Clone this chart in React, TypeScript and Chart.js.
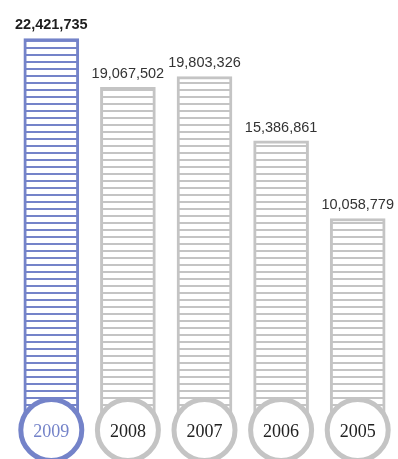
import React, { useEffect, useRef } from "react";
import { Chart, registerables } from "chart.js";

Chart.register(...registerables);

const years = ["2009", "2008", "2007", "2006", "2005"];
const values = [22421735, 19067502, 19803326, 15386861, 10058779];
const highlighted = [true, false, false, false, false];

const BLUE = "#7483c9";
const GRAY = "#c4c4c4";

function stripePattern(color: string): CanvasPattern | string {
  const c = document.createElement("canvas");
  c.width = 8;
  c.height = 7;
  const g = c.getContext("2d");
  if (!g) return "#fff";
  g.fillStyle = "#ffffff";
  g.fillRect(0, 0, 8, 7);
  g.fillStyle = color;
  g.fillRect(0, 5, 8, 2);
  const p = g.createPattern(c, "repeat");
  return p || "#fff";
}

const fmt = (v: number) => v.toLocaleString("en-US");

export default function App() {
  const ref = useRef<HTMLCanvasElement | null>(null);

  useEffect(() => {
    document.body.style.margin = "0";
    if (!ref.current) return;

    const overlay = {
      id: "overlay",
      afterDatasetsDraw(chart: any) {
        const ctx = chart.ctx;
        const meta = chart.getDatasetMeta(0);
        ctx.save();
        meta.data.forEach((el: any, i: number) => {
          const hi = highlighted[i];
          ctx.font = hi ? 'bold 14.5px "Liberation Sans", Arial, sans-serif' : '14.5px "Liberation Sans", Arial, sans-serif';
          ctx.fillStyle = hi ? "#1e1e1e" : "#333333";
          ctx.textAlign = "center";
          ctx.textBaseline = "bottom";
          ctx.fillText(fmt(values[i]), el.x, el.y - 6);
          const cy = 430;
          ctx.beginPath();
          ctx.arc(el.x, cy, 30.5, 0, Math.PI * 2);
          ctx.fillStyle = "#ffffff";
          ctx.fill();
          ctx.lineWidth = 5;
          ctx.strokeStyle = hi ? BLUE : GRAY;
          ctx.stroke();
          ctx.font = '18px "Liberation Serif", "DejaVu Serif", serif';
          ctx.fillStyle = hi ? BLUE : "#222222";
          ctx.textBaseline = "middle";
          ctx.fillText(years[i], el.x, cy + 2);
        });
        ctx.restore();
      },
    };

    const chart = new Chart(ref.current, {
      type: "bar",
      data: {
        labels: years,
        datasets: [
          {
            data: values,
            base: -3430000,
            backgroundColor: highlighted.map((h) => stripePattern(h ? BLUE : GRAY)),
            borderColor: highlighted.map((h) => (h ? BLUE : GRAY)),
            borderWidth: 3,
            borderSkipped: false,
            barThickness: 55,
          } as any,
        ],
      },
      options: {
        animation: false,
        responsive: false,
        maintainAspectRatio: false,
        layout: { padding: { top: 20, bottom: 44, left: 13, right: 2 } },
        plugins: { legend: { display: false }, tooltip: { enabled: false } },
        scales: {
          x: { display: false, offset: true },
          y: { display: false, min: -3430000, max: 23690000 },
        },
      },
      plugins: [overlay],
    });
    return () => chart.destroy();
  }, []);

  return (
    <div style={{ position: "fixed", left: 0, top: 0, width: 398, height: 459 }}>
      <canvas ref={ref} width={398} height={459} style={{ width: 398, height: 459 }} />
    </div>
  );
}
